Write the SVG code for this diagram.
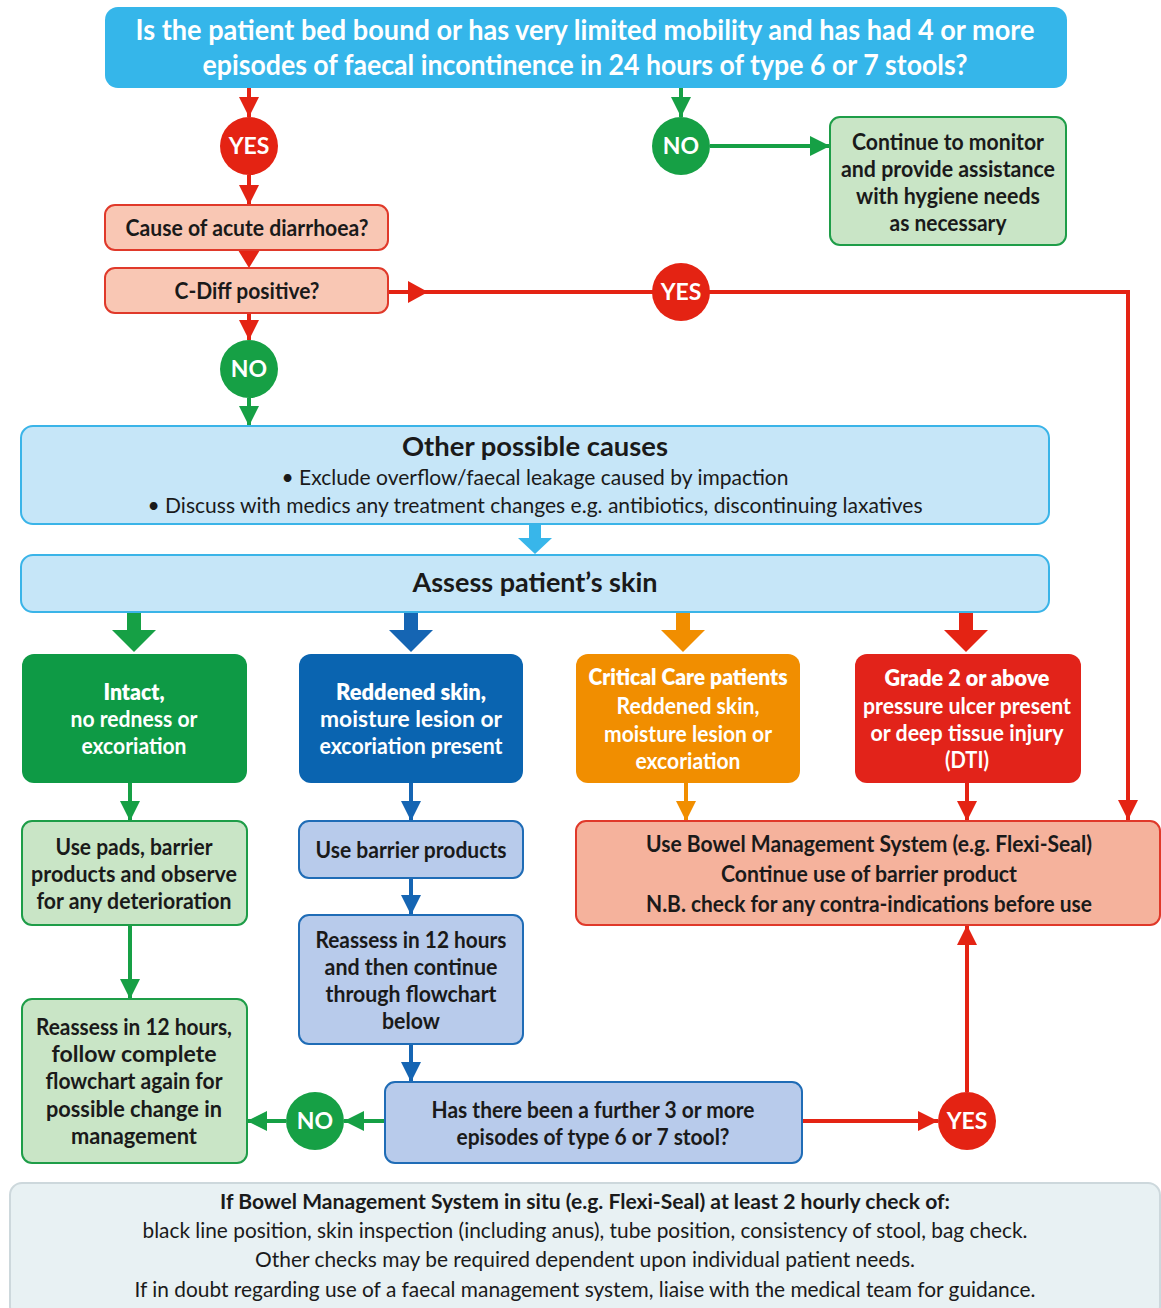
<svg xmlns="http://www.w3.org/2000/svg" width="1161" height="1308" viewBox="0 0 1161 1308">
<style>
text{font-family:Lato,"Liberation Sans",sans-serif;text-anchor:middle;}
.t{font-size:22px;font-weight:700;fill:#1a1a1a;}
.w{font-size:22px;font-weight:700;fill:#ffffff;}
.wb{font-size:22px;font-weight:800;fill:#ffffff;}
.top{font-size:28px;font-weight:700;fill:#ffffff;}
.h{font-size:27px;font-weight:700;fill:#1a1a1a;}
.s{font-size:21px;font-weight:400;fill:#1a1a1a;}
.sb{font-size:21px;font-weight:700;fill:#1a1a1a;}
.c{font-size:23px;font-weight:700;fill:#ffffff;}
.lr{stroke:#e42313;stroke-width:4;fill:none;}
.lg{stroke:#16a045;stroke-width:4;fill:none;}
.lb{stroke:#1565b3;stroke-width:4;fill:none;}
.lo{stroke:#f18e00;stroke-width:4;fill:none;}
</style>
<defs>
<marker id="ahR" markerUnits="userSpaceOnUse" markerWidth="22" markerHeight="22" refX="20" refY="10" orient="auto"><path d="M0,0 L20,10 L0,20 z" fill="#e42313"/></marker>
<marker id="ahG" markerUnits="userSpaceOnUse" markerWidth="22" markerHeight="22" refX="20" refY="10" orient="auto"><path d="M0,0 L20,10 L0,20 z" fill="#16a045"/></marker>
<marker id="ahB" markerUnits="userSpaceOnUse" markerWidth="22" markerHeight="22" refX="20" refY="10" orient="auto"><path d="M0,0 L20,10 L0,20 z" fill="#1565b3"/></marker>
<marker id="ahO" markerUnits="userSpaceOnUse" markerWidth="22" markerHeight="22" refX="20" refY="10" orient="auto"><path d="M0,0 L20,10 L0,20 z" fill="#f18e00"/></marker>
</defs>
<rect width="1161" height="1308" fill="#ffffff"/>

<g id="connectors">
<line class="lr" x1="249" y1="88" x2="249" y2="117" marker-end="url(#ahR)"/>
<line class="lr" x1="249" y1="175" x2="249" y2="205" marker-end="url(#ahR)"/>
<polygon points="238,250 260,250 249,268" fill="#e42313"/>
<line class="lr" x1="249" y1="313" x2="249" y2="340" marker-end="url(#ahR)"/>
<line class="lg" x1="249" y1="398" x2="249" y2="426" marker-end="url(#ahG)"/>
<line class="lg" x1="681" y1="88" x2="681" y2="117" marker-end="url(#ahG)"/>
<line class="lg" x1="710" y1="146" x2="830" y2="146" marker-end="url(#ahG)"/>
<polyline class="lr" points="388,292 1128,292 1128,820" marker-end="url(#ahR)"/>
<polygon points="408,281 428,292 408,303" fill="#e42313"/>
<polygon points="529,524 541,524 541,538 552,538 535,554 518,538 529,538" fill="#38b6ea"/>
<polygon points="127,612 141,612 141,630 156,630 134,652 112,630 127,630" fill="#16a045"/>
<polygon points="404,612 418,612 418,630 433,630 411,652 389,630 404,630" fill="#1565b3"/>
<polygon points="676,612 690,612 690,630 705,630 683,652 661,630 676,630" fill="#f18e00"/>
<polygon points="959,612 973,612 973,630 988,630 966,652 944,630 959,630" fill="#e42313"/>
<line class="lg" x1="130" y1="783" x2="130" y2="821" marker-end="url(#ahG)"/>
<line class="lb" x1="411" y1="783" x2="411" y2="821" marker-end="url(#ahB)"/>
<line class="lo" x1="686" y1="783" x2="686" y2="821" marker-end="url(#ahO)"/>
<line class="lr" x1="967" y1="783" x2="967" y2="821" marker-end="url(#ahR)"/>
<line class="lb" x1="411" y1="878" x2="411" y2="915" marker-end="url(#ahB)"/>
<line class="lb" x1="411" y1="1044" x2="411" y2="1082" marker-end="url(#ahB)"/>
<line class="lg" x1="130" y1="925" x2="130" y2="999" marker-end="url(#ahG)"/>
<line class="lg" x1="385" y1="1121" x2="344" y2="1121" marker-end="url(#ahG)"/>
<line class="lg" x1="286" y1="1121" x2="247" y2="1121" marker-end="url(#ahG)"/>
<line class="lr" x1="802" y1="1121" x2="938" y2="1121" marker-end="url(#ahR)"/>
<line class="lr" x1="967" y1="1092" x2="967" y2="925" marker-end="url(#ahR)"/>
</g>

<g id="q1">
<rect x="105" y="7" width="962" height="81" rx="13" fill="#35b6ea"/>
<text class="top" x="585" y="40" textLength="899" lengthAdjust="spacingAndGlyphs">Is the patient bed bound or has very limited mobility and has had 4 or more</text>
<text class="top" x="585" y="75" textLength="765" lengthAdjust="spacingAndGlyphs">episodes of faecal incontinence in 24 hours of type 6 or 7 stools?</text>
</g>
<g id="yes1"><circle cx="249" cy="146" r="29" fill="#e42313"/><text class="c" x="249" y="154">YES</text></g>
<g id="no1"><circle cx="681" cy="146" r="29" fill="#16a045"/><text class="c" x="681" y="154">NO</text></g>
<g id="monitor">
<rect x="830" y="117" width="236" height="128" rx="10" fill="#c9e5c6" stroke="#1e9d48" stroke-width="2"/>
<text class="t" x="948" y="150" textLength="192" lengthAdjust="spacingAndGlyphs">Continue to monitor</text>
<text class="t" x="948" y="177" textLength="214" lengthAdjust="spacingAndGlyphs">and provide assistance</text>
<text class="t" x="948" y="204" textLength="184" lengthAdjust="spacingAndGlyphs">with hygiene needs</text>
<text class="t" x="948" y="231" textLength="117" lengthAdjust="spacingAndGlyphs">as necessary</text>
</g>
<g id="cause">
<rect x="105" y="205" width="283" height="45" rx="10" fill="#f9c7b4" stroke="#e0392a" stroke-width="2"/>
<text class="t" x="247" y="236" textLength="243" lengthAdjust="spacingAndGlyphs">Cause of acute diarrhoea?</text>
</g>
<g id="cdiff">
<rect x="105" y="268" width="283" height="45" rx="10" fill="#f9c7b4" stroke="#e0392a" stroke-width="2"/>
<text class="t" x="247" y="299" textLength="145" lengthAdjust="spacingAndGlyphs">C-Diff positive?</text>
</g>
<g id="yes2"><circle cx="681" cy="292" r="29" fill="#e42313"/><text class="c" x="681" y="300">YES</text></g>
<g id="no2"><circle cx="249" cy="369" r="29" fill="#16a045"/><text class="c" x="249" y="377">NO</text></g>
<g id="other">
<rect x="21" y="426" width="1028" height="98" rx="12" fill="#c6e6f8" stroke="#3ab4e8" stroke-width="2"/>
<text class="h" x="535" y="456" textLength="266" lengthAdjust="spacingAndGlyphs">Other possible causes</text>
<text class="s" x="535" y="485" textLength="507" lengthAdjust="spacingAndGlyphs">• Exclude overflow/faecal leakage caused by impaction</text>
<text class="s" x="535" y="513" textLength="775" lengthAdjust="spacingAndGlyphs">• Discuss with medics any treatment changes e.g. antibiotics, discontinuing laxatives</text>
</g>
<g id="assess">
<rect x="21" y="555" width="1028" height="57" rx="12" fill="#c6e6f8" stroke="#3ab4e8" stroke-width="2"/>
<text class="h" x="535" y="592" textLength="245" lengthAdjust="spacingAndGlyphs">Assess patient’s skin</text>
</g>
<g id="intact">
<rect x="22" y="654" width="225" height="129" rx="12" fill="#0e9a45"/>
<text class="wb" x="134" y="700" textLength="61" lengthAdjust="spacingAndGlyphs">Intact,</text>
<text class="w" x="134" y="727" textLength="127" lengthAdjust="spacingAndGlyphs">no redness or</text>
<text class="w" x="134" y="754" textLength="105" lengthAdjust="spacingAndGlyphs">excoriation</text>
</g>
<g id="reddened">
<rect x="299" y="654" width="224" height="129" rx="12" fill="#0a64b0"/>
<text class="wb" x="411" y="700" textLength="150" lengthAdjust="spacingAndGlyphs">Reddened skin,</text>
<text class="w" x="411" y="727" textLength="182" lengthAdjust="spacingAndGlyphs">moisture lesion or</text>
<text class="w" x="411" y="754" textLength="183" lengthAdjust="spacingAndGlyphs">excoriation present</text>
</g>
<g id="critical">
<rect x="576" y="654" width="224" height="129" rx="12" fill="#f18e00"/>
<text class="wb" x="688" y="685" textLength="199" lengthAdjust="spacingAndGlyphs">Critical Care patients</text>
<text class="w" x="688" y="714" textLength="143" lengthAdjust="spacingAndGlyphs">Reddened skin,</text>
<text class="w" x="688" y="742" textLength="168" lengthAdjust="spacingAndGlyphs">moisture lesion or</text>
<text class="w" x="688" y="769" textLength="105" lengthAdjust="spacingAndGlyphs">excoriation</text>
</g>
<g id="grade2">
<rect x="855" y="654" width="226" height="129" rx="12" fill="#e2231a"/>
<text class="wb" x="967" y="686" textLength="165" lengthAdjust="spacingAndGlyphs">Grade 2 or above</text>
<text class="w" x="967" y="714" textLength="208" lengthAdjust="spacingAndGlyphs">pressure ulcer present</text>
<text class="w" x="967" y="741" textLength="193" lengthAdjust="spacingAndGlyphs">or deep tissue injury</text>
<text class="w" x="967" y="768" textLength="44" lengthAdjust="spacingAndGlyphs">(DTI)</text>
</g>
<g id="pads">
<rect x="22" y="821" width="225" height="104" rx="10" fill="#c9e5c6" stroke="#1e9d48" stroke-width="2"/>
<text class="t" x="134" y="855" textLength="157" lengthAdjust="spacingAndGlyphs">Use pads, barrier</text>
<text class="t" x="134" y="882" textLength="206" lengthAdjust="spacingAndGlyphs">products and observe</text>
<text class="t" x="134" y="909" textLength="195" lengthAdjust="spacingAndGlyphs">for any deterioration</text>
</g>
<g id="barrier">
<rect x="299" y="821" width="224" height="57" rx="10" fill="#b8cbeb" stroke="#1f6cb6" stroke-width="2"/>
<text class="t" x="411" y="858" textLength="191" lengthAdjust="spacingAndGlyphs">Use barrier products</text>
</g>
<g id="bms">
<rect x="576" y="821" width="584" height="104" rx="10" fill="#f5b29c" stroke="#e0392a" stroke-width="2"/>
<text class="t" x="869" y="852" textLength="446" lengthAdjust="spacingAndGlyphs">Use Bowel Management System (e.g. Flexi-Seal)</text>
<text class="t" x="869" y="882" textLength="296" lengthAdjust="spacingAndGlyphs">Continue use of barrier product</text>
<text class="t" x="869" y="912" textLength="446" lengthAdjust="spacingAndGlyphs">N.B. check for any contra-indications before use</text>
</g>
<g id="reassess1">
<rect x="299" y="915" width="224" height="129" rx="10" fill="#b8cbeb" stroke="#1f6cb6" stroke-width="2"/>
<text class="t" x="411" y="948" textLength="191" lengthAdjust="spacingAndGlyphs">Reassess in 12 hours</text>
<text class="t" x="411" y="975" textLength="173" lengthAdjust="spacingAndGlyphs">and then continue</text>
<text class="t" x="411" y="1002" textLength="171" lengthAdjust="spacingAndGlyphs">through flowchart</text>
<text class="t" x="411" y="1029" textLength="58" lengthAdjust="spacingAndGlyphs">below</text>
</g>
<g id="reassess2">
<rect x="22" y="999" width="225" height="164" rx="10" fill="#c9e5c6" stroke="#1e9d48" stroke-width="2"/>
<text class="t" x="134" y="1035" textLength="196" lengthAdjust="spacingAndGlyphs">Reassess in 12 hours,</text>
<text class="t" x="134" y="1062" textLength="165" lengthAdjust="spacingAndGlyphs">follow complete</text>
<text class="t" x="134" y="1089" textLength="177" lengthAdjust="spacingAndGlyphs">flowchart again for</text>
<text class="t" x="134" y="1117" textLength="176" lengthAdjust="spacingAndGlyphs">possible change in</text>
<text class="t" x="134" y="1144" textLength="126" lengthAdjust="spacingAndGlyphs">management</text>
</g>
<g id="further">
<rect x="385" y="1082" width="417" height="81" rx="10" fill="#b8cbeb" stroke="#1f6cb6" stroke-width="2"/>
<text class="t" x="593" y="1118" textLength="323" lengthAdjust="spacingAndGlyphs">Has there been a further 3 or more</text>
<text class="t" x="593" y="1145" textLength="273" lengthAdjust="spacingAndGlyphs">episodes of type 6 or 7 stool?</text>
</g>
<g id="no3"><circle cx="315" cy="1121" r="29" fill="#16a045"/><text class="c" x="315" y="1129">NO</text></g>
<g id="yes3"><circle cx="967" cy="1121" r="29" fill="#e42313"/><text class="c" x="967" y="1129">YES</text></g>
<g id="note">
<rect x="10" y="1183" width="1150" height="135" rx="12" fill="#e8f1f3" stroke="#cdd8dc" stroke-width="2"/>
<text class="sb" x="585" y="1209" textLength="730" lengthAdjust="spacingAndGlyphs">If Bowel Management System in situ (e.g. Flexi-Seal) at least 2 hourly check of:</text>
<text class="s" x="585" y="1238" textLength="885" lengthAdjust="spacingAndGlyphs">black line position, skin inspection (including anus), tube position, consistency of stool, bag check.</text>
<text class="s" x="585" y="1267" textLength="660" lengthAdjust="spacingAndGlyphs">Other checks may be required dependent upon individual patient needs.</text>
<text class="s" x="585" y="1297" textLength="901" lengthAdjust="spacingAndGlyphs">If in doubt regarding use of a faecal management system, liaise with the medical team for guidance.</text>
</g>
</svg>
